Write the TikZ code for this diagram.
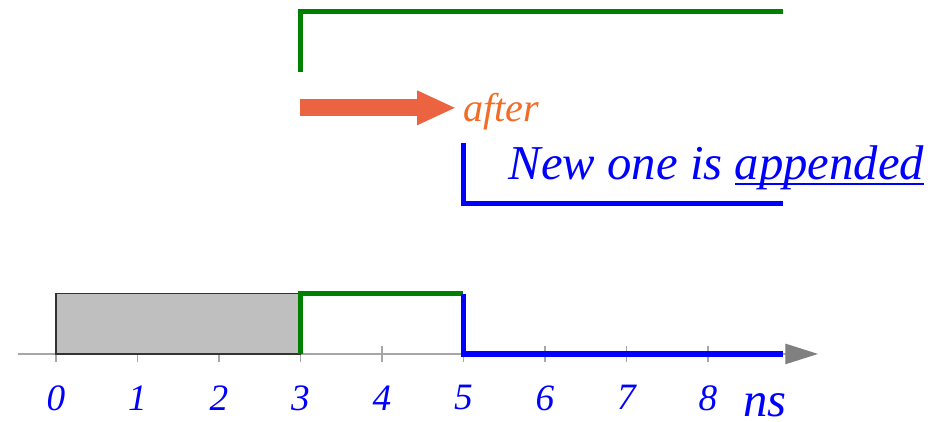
\documentclass[tikz,border=0pt]{standalone}
\usepackage{fontspec}
\setmainfont{Liberation Serif}
\usetikzlibrary{positioning,arrows.meta}
\definecolor{sigblue}{RGB}{0,0,255}
\definecolor{siggreen}{RGB}{0,128,0}
\definecolor{arroworange}{RGB}{235,99,64}
\definecolor{textorange}{RGB}{242,108,38}
\newcommand\lowline[1]{\setbox0\hbox{#1}\rlap{\rule[-1.8pt]{\wd0}{0.5pt}}\box0}

\begin{document}
\begin{tikzpicture}[node distance=.25cm,
axis/.style={draw=gray!70, thin, -{Triangle[length=4mm, width=2.5mm, color=gray]}},
tickmark/.style={draw=gray!70, thin},
busy/.style={draw=black!80, thin, fill=gray!50},
green signal/.style={draw=siggreen, line width=1.8pt},
blue signal/.style={draw=sigblue, line width=1.8pt},
shift arrow/.style={draw=arroworange, line width=2.05mm, -{Triangle[length=4.8mm, width=3.9mm]}},
num/.style={text=sigblue, inner sep=0pt, font=\itshape\fontsize{13}{13}\selectfont},
unit/.style={text=sigblue, inner sep=0pt, font=\itshape\fontsize{17}{17}\selectfont},
note/.style={inner sep=0pt, font=\itshape\fontsize{17}{17}\selectfont}
]
\useasboundingbox (-0.687,-0.834) rectangle (10.945,4.343);

%create coordinates
\coordinate (start) at (-0.47,0);
\coordinate (end) at (9.35,0);
\coordinate (b3) at (3,0.74);
\coordinate (b5) at (5,0.74);
\coordinate (last) at (8.92,0);

\coordinate (g0) at (3,3.46);
\coordinate (g1) at (3,4.2);
\coordinate (g2) at (8.92,4.2);

\coordinate (u0) at (5,2.59);
\coordinate (u1) at (5,1.85);
\coordinate (u2) at (8.92,1.85);

\coordinate (a0) at (2.99,3.02);
\coordinate (a1) at (4.91,3.02);

%time axis with ticks and numbers
\draw[axis] (start) -- (end);
\foreach \i in {0,...,8}{
  \coordinate (t\i) at (\i,0);
  \draw[tickmark] (t\i) ++(0,-0.1) -- ++(0,0.2);
  \node[num, below=0.38cm of t\i] (n\i) {\i};
}
\node[unit, anchor=base] (ns) at (8.7,-0.77) {ns};

%busy interval
\draw[busy] (t0) rectangle (b3);

%resulting timeline
\draw[green signal] (t3) -- (b3) -- (b5);
\draw[blue signal] (b5) -- (t5) -- (last);

%old event
\draw[green signal] (g0) -- (g1) -- (g2);

%shift
\draw[shift arrow] (a0) -- (a1);
\node[note, text=textorange, font=\itshape\fontsize{14}{14}\selectfont, anchor=base west] (after) at (4.99,2.85) {after};

%new event
\draw[blue signal] (u0) -- (u1) -- (u2);
\node[note, anchor=base west] (msg) at (5.55,2.14) {\color{sigblue}New one is \lowline{appended}};

\end{tikzpicture}
\end{document}
